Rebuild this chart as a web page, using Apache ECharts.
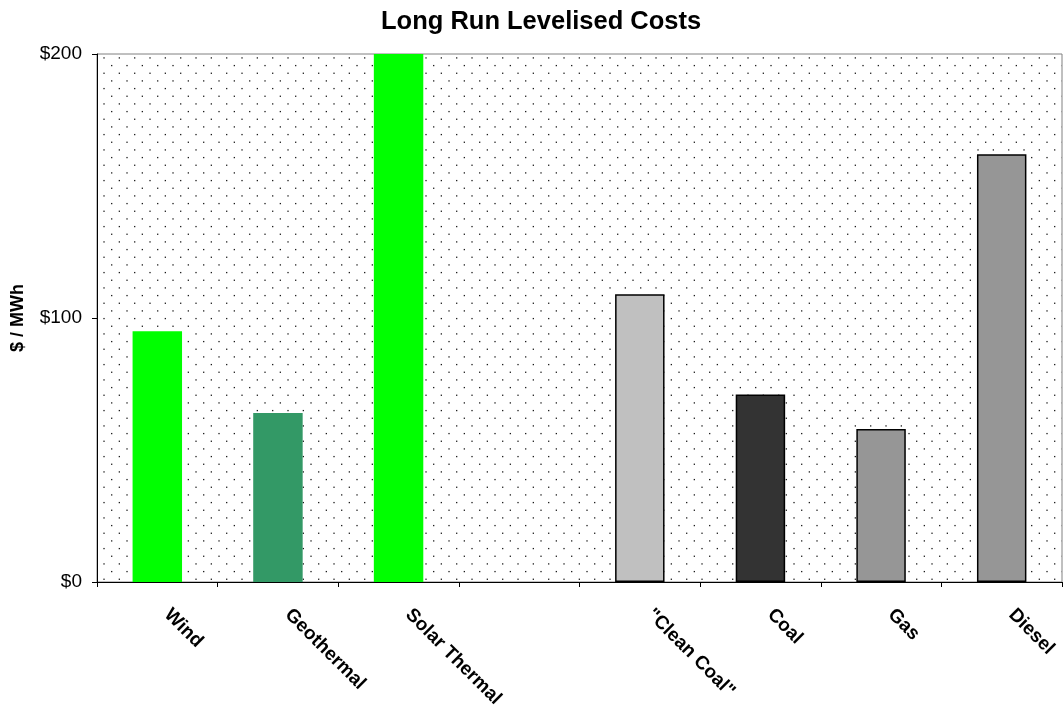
<!DOCTYPE html>
<html>
<head>
<meta charset="utf-8">
<title>Long Run Levelised Costs</title>
<script src="https://cdn.jsdelivr.net/npm/echarts@6/dist/echarts.min.js"></script>
<style>
  html, body { margin: 0; padding: 0; background: #ffffff; }
  #chart { width: 1063px; height: 713px; }
</style>
</head>
<body>
<div id="chart"></div>
<script>
// Technologies (an empty slot separates renewables from fossil fuels)
const categories = ['Wind', 'Geothermal', 'Solar Thermal', '', '"Clean Coal"', 'Coal', 'Gas', 'Diesel'];
// Long run levelised cost, $ per MWh
const costs = [95, 64, 200, null, 109, 71, 58, 162];
const barColors = ['#00FF00', '#339966', '#00FF00', null, '#C0C0C0', '#333333', '#969696', '#969696'];
const outlined = [false, false, false, false, true, true, true, true];
const yTicks = [0, 100, 200];

// Dotted fill for the plot area
function dotPattern() {
  const step = 46 / 3;
  const c = document.createElement('canvas');
  c.width = 46; c.height = 46;
  const ctx = c.getContext('2d');
  ctx.fillStyle = '#ffffff';
  ctx.fillRect(0, 0, 46, 46);
  ctx.fillStyle = '#1a1a1a';
  for (let j = 0; j < 6; j++) {
    for (let i = 0; i < 3; i++) {
      const x = 3.7 + i * step + (j % 2 ? step / 2 : 0);
      const y = 3.6 + j * step / 2;
      ctx.fillRect(x, y, 1.3, 1.3);
      if (x + 1 > 46) ctx.fillRect(x - 46, y, 1.3, 1.3);
    }
  }
  return c;
}

const chart = echarts.init(document.getElementById('chart'), null, { renderer: 'canvas' });
const font = 'Liberation Sans, Arial, sans-serif';

chart.setOption({
  animation: false,
  backgroundColor: '#ffffff',
  title: {
    text: 'Long Run Levelised Costs',
    left: 376,
    top: 4,
    textStyle: { fontFamily: font, fontWeight: 'bold', fontSize: 25.5, color: '#000000' }
  },
  grid: {
    left: 97, right: 1, top: 54, bottom: 131,
    show: true,
    backgroundColor: { image: dotPattern(), repeat: 'repeat' },
    borderColor: '#808080',
    borderWidth: 1
  },
  xAxis: {
    type: 'category',
    data: categories,
    boundaryGap: true,
    axisLine: { show: true, lineStyle: { color: '#000000', width: 1 } },
    axisTick: { show: true, length: 5, alignWithLabel: false, interval: 0, lineStyle: { color: '#000000' } },
    axisLabel: {
      interval: 0, rotate: -45, margin: 20, padding: [0, 0, 0, 14],
      fontFamily: font, fontWeight: 'bold', fontSize: 19, color: '#000000'
    },
    splitLine: { show: false }
  },
  yAxis: {
    type: 'value',
    min: yTicks[0], max: yTicks[yTicks.length - 1], interval: 100,
    name: '$ / MWh',
    nameLocation: 'middle',
    nameGap: 70,
    nameRotate: 90,
    nameTextStyle: { fontFamily: font, fontWeight: 'bold', fontSize: 18, color: '#000000' },
    axisLine: { show: true, lineStyle: { color: '#000000', width: 1 } },
    axisTick: { show: true, length: 5, lineStyle: { color: '#000000' } },
    axisLabel: {
      margin: 15, fontFamily: font, fontSize: 19, color: '#000000',
      formatter: v => '$' + v
    },
    splitLine: { show: false }
  },
  series: [{
    type: 'bar',
    barWidth: '41%',
    data: costs.map((v, i) => v === null ? '-' : {
      value: v,
      itemStyle: {
        color: barColors[i],
        borderColor: outlined[i] ? '#000000' : barColors[i],
        borderWidth: outlined[i] ? 1.5 : 0
      }
    })
  }]
});
</script>
</body>
</html>
